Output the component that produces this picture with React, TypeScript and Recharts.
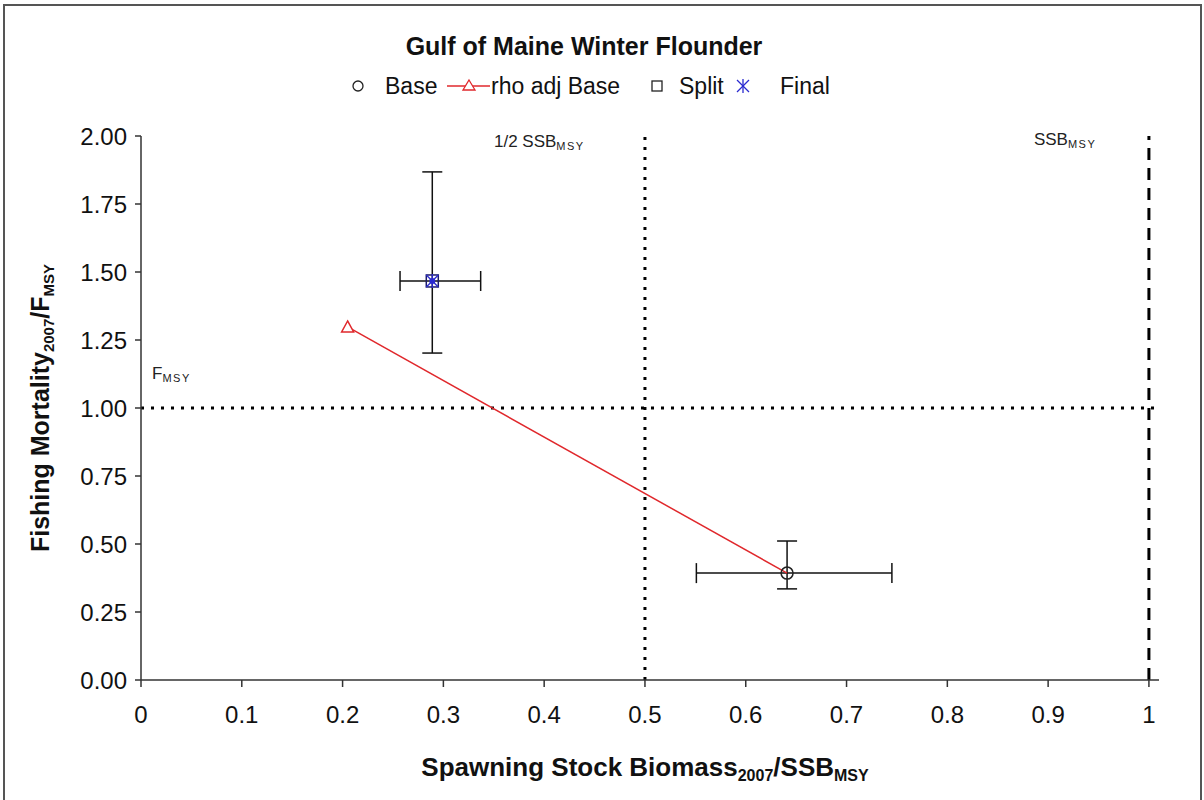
import React from 'react';
import { ScatterChart, Scatter, XAxis, YAxis, ReferenceLine, ErrorBar } from 'recharts';

const FONT = '"Liberation Sans", Arial, sans-serif';

// axis ticks
const xTicks = [0, 0.1, 0.2, 0.3, 0.4, 0.5, 0.6, 0.7, 0.8, 0.9, 1];
const yTicks = [0, 0.25, 0.5, 0.75, 1, 1.25, 1.5, 1.75, 2];

// Base (SSB ratio, F ratio) with 80% interval
const baseSsb = [0.641];
const baseF = [0.393];
const baseSsbLow = [0.551];
const baseSsbHigh = [0.745];
const baseFLow = [0.335];
const baseFHigh = [0.511];

// rho adjusted Base
const rhoSsb = [0.205];
const rhoF = [1.298];

// Split
const splitSsb = [0.289];
const splitF = [1.467];
const splitSsbLow = [0.257];
const splitSsbHigh = [0.337];
const splitFLow = [1.202];
const splitFHigh = [1.868];

// Final
const finalSsb = [0.289];
const finalF = [1.467];

// reference points
const halfSsbMsy = 0.5;
const ssbMsy = 1;
const fMsy = 1;

const withErrors = (xs: number[], ys: number[], xl: number[], xh: number[], yl: number[], yh: number[]) =>
  xs.map((x, i) => ({ x, y: ys[i], ex: [x - xl[i], xh[i] - x], ey: [ys[i] - yl[i], yh[i] - ys[i]] }));

const baseData = withErrors(baseSsb, baseF, baseSsbLow, baseSsbHigh, baseFLow, baseFHigh);
const splitData = withErrors(splitSsb, splitF, splitSsbLow, splitSsbHigh, splitFLow, splitFHigh);
// line runs from the rho-adjusted point back to the base estimate
const rhoData = [
  ...rhoSsb.map((x, i) => ({ x, y: rhoF[i], mark: true })),
  ...baseSsb.map((x, i) => ({ x, y: baseF[i], mark: false })),
];
const finalData = finalSsb.map((x, i) => ({ x, y: finalF[i] }));

const RED = '#e0282c';
const NAVY = '#1c1c6a';
const BLUE = '#2a2ad0';

const CircleMark = ({ cx, cy }: any) => (
  <circle cx={cx} cy={cy} r={6} fill="none" stroke="#222" strokeWidth={1.5} />
);
const TriMark = ({ cx, cy, payload }: any) =>
  payload && payload.mark ? (
    <path d={`M${cx},${cy - 6} L${cx + 6},${cy + 5} L${cx - 6},${cy + 5} Z`} fill="#fff" stroke={RED} strokeWidth={1.5} />
  ) : (
    <g />
  );
const SquareMark = ({ cx, cy }: any) => (
  <rect x={cx - 6} y={cy - 6} width={12} height={12} fill="none" stroke={NAVY} strokeWidth={1.5} />
);
const StarMark = ({ cx, cy }: any) => (
  <g stroke={BLUE} strokeWidth={1.3}>
    <line x1={cx - 6} y1={cy - 6} x2={cx + 6} y2={cy + 6} />
    <line x1={cx - 6} y1={cy + 6} x2={cx + 6} y2={cy - 6} />
    <line x1={cx} y1={cy - 7} x2={cx} y2={cy + 7} />
    <circle cx={cx} cy={cy} r={3} fill={BLUE} stroke="none" />
  </g>
);

const refLabel = (main: string, sub: string, dx: number, dy: number) => (props: any) => {
  const vb = props.viewBox || {};
  return (
    <text x={vb.x + dx} y={vb.y + dy} fontFamily={FONT} fontSize={17} fill="#222">
      {main}
      <tspan fontSize={11} dy={3} letterSpacing={1.5}>{sub}</tspan>
    </text>
  );
};

const legendItems = [
  { name: 'Base', icon: 'circle', iconX: 358, textX: 385 },
  { name: 'rho adj Base', icon: 'tri', iconX: 469, textX: 491 },
  { name: 'Split', icon: 'square', iconX: 657, textX: 679 },
  { name: 'Final', icon: 'star', iconX: 743, textX: 780 },
];

const LegendIcon = ({ icon }: { icon: string }) => {
  if (icon === 'circle') return <circle cx={12} cy={12} r={5} fill="none" stroke="#222" strokeWidth={1.3} />;
  if (icon === 'tri')
    return (
      <g>
        <line x1={-10} y1={12} x2={33} y2={12} stroke={RED} strokeWidth={1.5} />
        <path d="M12,6 L18,16 L6,16 Z" fill="#fff" stroke={RED} strokeWidth={1.3} />
      </g>
    );
  if (icon === 'square') return <rect x={7} y={7} width={10} height={10} fill="none" stroke="#222" strokeWidth={1.3} />;
  return (
    <g stroke={BLUE} strokeWidth={1.3}>
      <line x1={6} y1={6} x2={18} y2={18} />
      <line x1={6} y1={18} x2={18} y2={6} />
      <line x1={12} y1={5} x2={12} y2={19} />
    </g>
  );
};

const sub = (size: number): React.CSSProperties => ({ fontSize: size, verticalAlign: '-0.3em', lineHeight: 0 });

export default function App() {
  return (
    <div style={{ position: 'absolute', left: 0, top: 0, width: 1204, height: 800, background: '#fff', fontFamily: FONT }}>
      <div style={{ position: 'absolute', left: 3, top: 4, width: 1199, height: 800, border: '2px solid #555', boxSizing: 'border-box' }} />

      <div style={{ position: 'absolute', left: 0, top: 32, width: 1168, textAlign: 'center', fontWeight: 700, fontSize: 25, lineHeight: '28px', color: '#111' }}>
        Gulf of Maine Winter Flounder
      </div>

      {legendItems.map((it) => (
        <React.Fragment key={it.name}>
          <svg style={{ position: 'absolute', left: it.iconX - 12, top: 74, overflow: 'visible' }} width={24} height={24}>
            <LegendIcon icon={it.icon} />
          </svg>
          <div style={{ position: 'absolute', left: it.textX, top: 73, fontSize: 23, lineHeight: '26px', color: '#111' }}>{it.name}</div>
        </React.Fragment>
      ))}

      <ScatterChart width={1204} height={800} margin={{ top: 136, right: 45, bottom: 40, left: 61 }} style={{ position: 'absolute', left: 0, top: 0 }}>
        <XAxis
          type="number"
          dataKey="x"
          domain={[0, 1.01]}
          ticks={xTicks}
          allowDataOverflow
          height={80}
          tickSize={7}
          tickMargin={19}
          tickFormatter={(v: number) => (v === 0 || v === 1 ? String(v) : v.toFixed(1))}
          tick={{ fontSize: 24, fill: '#111', fontFamily: FONT }}
          axisLine={{ stroke: '#333', strokeWidth: 1.5 }}
          tickLine={{ stroke: '#333', strokeWidth: 1.5 }}
        />
        <YAxis
          type="number"
          dataKey="y"
          domain={[0, 2]}
          ticks={yTicks}
          allowDataOverflow
          width={80}
          tickSize={6}
          tickMargin={8}
          tickFormatter={(v: number) => v.toFixed(2)}
          tick={{ fontSize: 24, fill: '#111', fontFamily: FONT }}
          axisLine={{ stroke: '#333', strokeWidth: 1.5 }}
          tickLine={{ stroke: '#333', strokeWidth: 1.5 }}
        />
        <ReferenceLine x={halfSsbMsy} stroke="#000" strokeWidth={3} strokeDasharray="3 7" label={refLabel('1/2 SSB', 'MSY', -151, 11)} />
        <ReferenceLine x={ssbMsy} stroke="#000" strokeWidth={3} strokeDasharray="12 8" label={refLabel('SSB', 'MSY', -115, 9)} />
        <ReferenceLine y={fMsy} stroke="#000" strokeWidth={3} strokeDasharray="3 7" label={refLabel('F', 'MSY', 11, -29)} />

        <Scatter name="rho adj Base" data={rhoData} line={{ stroke: RED, strokeWidth: 1.5 }} shape={<TriMark />} isAnimationActive={false} />
        <Scatter name="Base" data={baseData} shape={<CircleMark />} isAnimationActive={false}>
          <ErrorBar dataKey="ex" direction="x" width={10} stroke="#111" strokeWidth={1.5} />
          <ErrorBar dataKey="ey" direction="y" width={10} stroke="#111" strokeWidth={1.5} />
        </Scatter>
        <Scatter name="Split" data={splitData} shape={<SquareMark />} isAnimationActive={false}>
          <ErrorBar dataKey="ex" direction="x" width={10} stroke="#111" strokeWidth={1.5} />
          <ErrorBar dataKey="ey" direction="y" width={10} stroke="#111" strokeWidth={1.5} />
        </Scatter>
        <Scatter name="Final" data={finalData} shape={<StarMark />} isAnimationActive={false} />
      </ScatterChart>

      <div style={{ position: 'absolute', left: -160, top: 393, width: 400, height: 30, textAlign: 'center', transform: 'rotate(-90deg)', fontWeight: 700, fontSize: 25, lineHeight: '30px', color: '#111', whiteSpace: 'nowrap' }}>
        Fishing Mortality<span style={sub(15)}>2007</span>/F<span style={sub(15)}>MSY</span>
      </div>
      <div style={{ position: 'absolute', left: 345, top: 752, width: 600, textAlign: 'center', fontWeight: 700, fontSize: 26, lineHeight: '30px', color: '#111', whiteSpace: 'nowrap' }}>
        Spawning Stock Biomass<span style={sub(16)}>2007</span>/SSB<span style={sub(16)}>MSY</span>
      </div>
    </div>
  );
}
